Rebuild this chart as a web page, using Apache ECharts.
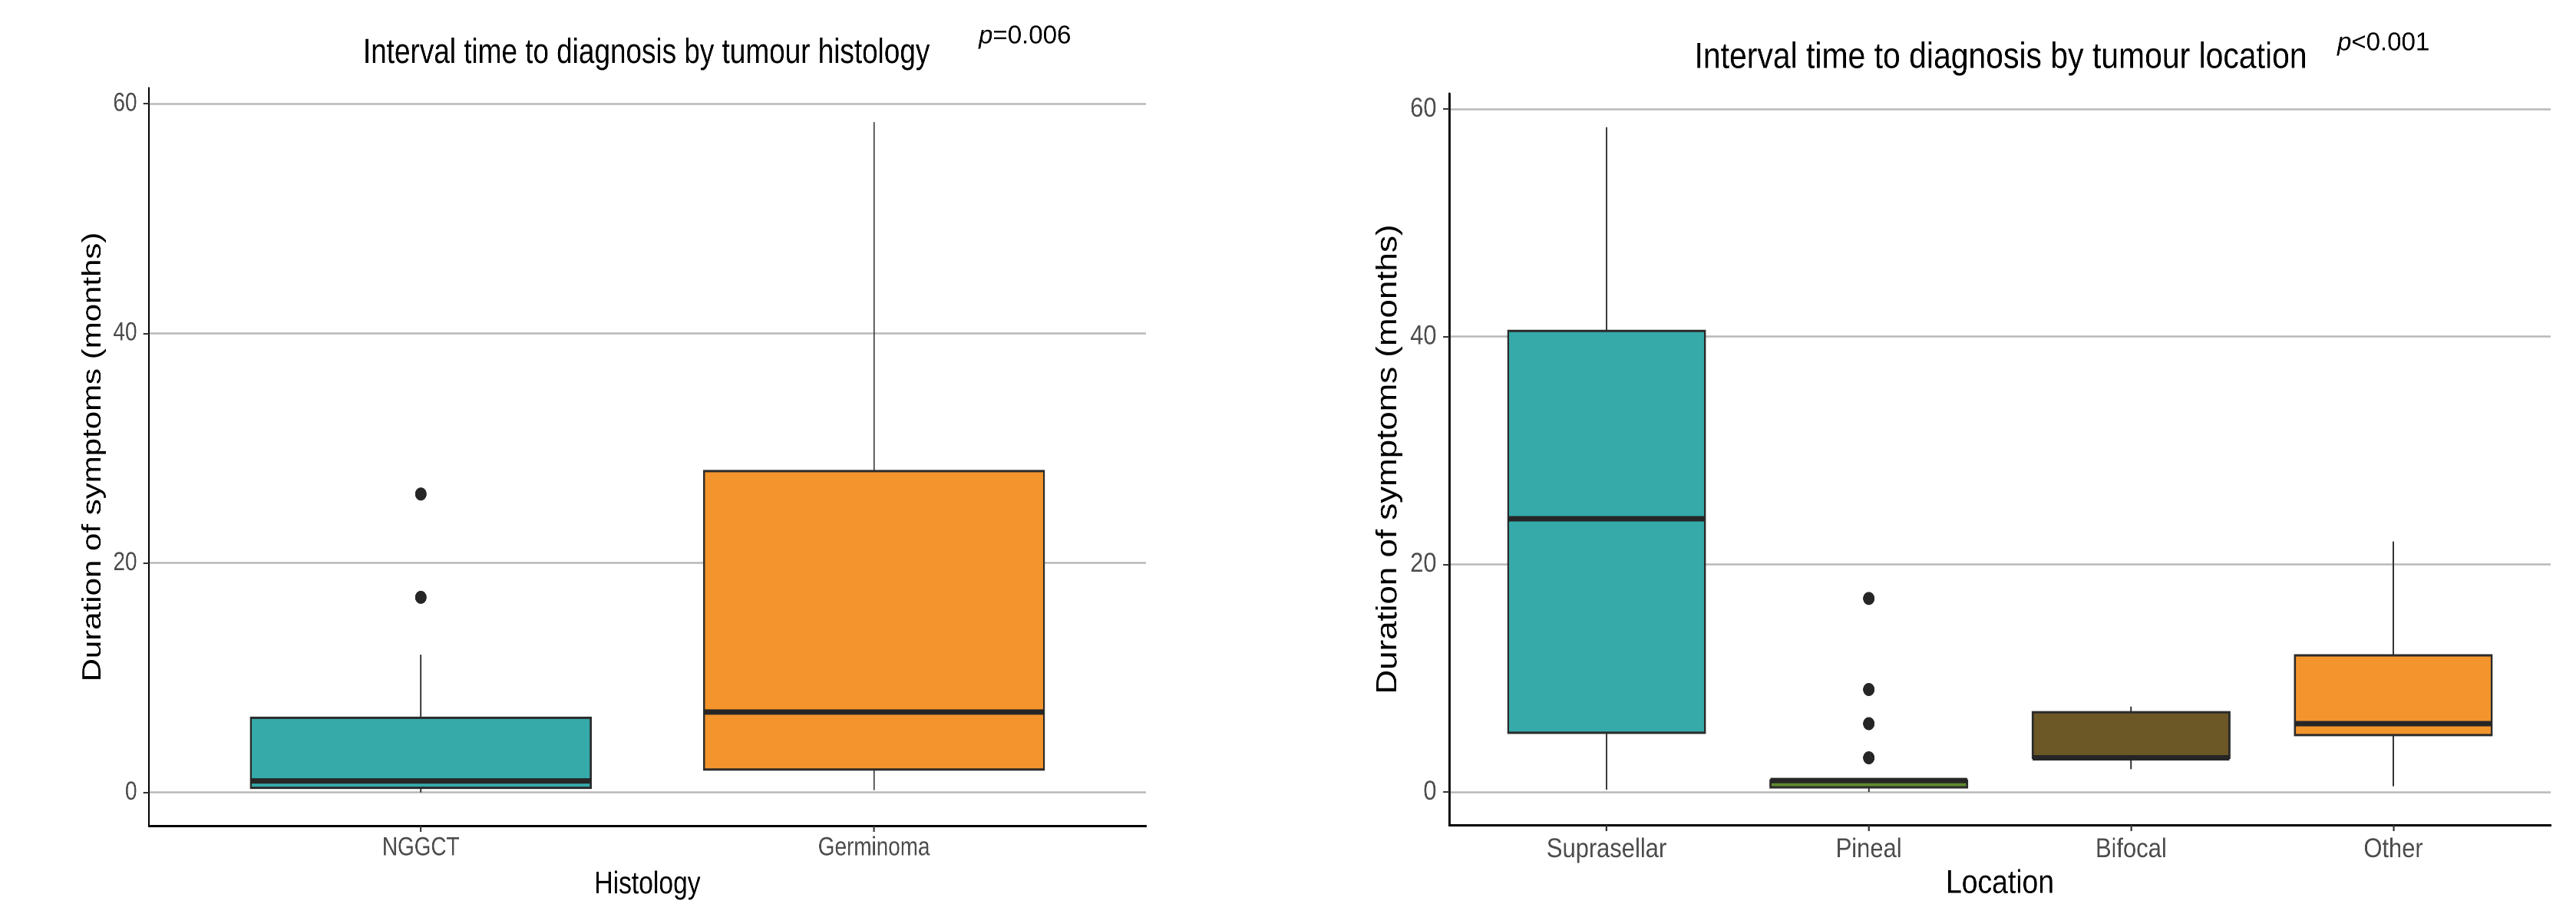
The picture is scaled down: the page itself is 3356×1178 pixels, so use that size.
<!DOCTYPE html>
<html>
<head>
<meta charset="utf-8">
<title>Interval time to diagnosis</title>
<script src="https://cdn.jsdelivr.net/npm/echarts@6/dist/echarts.min.js"></script>
<style>
html, body { margin: 0; padding: 0; background: #fff; }
body { position: relative; width: 3356px; height: 1178px; overflow: hidden; }
/* the original figure is squeezed sideways, so each panel is drawn wider and scaled back */
#left { position: absolute; left: 0; top: 0; width: 2074px; height: 1178px; transform: scaleX(0.82); transform-origin: 0 0; }
#right { position: absolute; left: 1700px; top: 0; width: 1904px; height: 1178px; transform: scaleX(0.87); transform-origin: 0 0; }
</style>
</head>
<body>
<div id="left"></div>
<div id="right"></div>
<script>
// left panel: by histology
var histCats = ['NGGCT', 'Germinoma'];
// [min, Q1, median, Q3, max] (whisker ends)
var histBoxes = [
	[0, 0.4, 1, 6.5, 12],
	[0.2, 2, 7, 28, 58.4]
];
// [category number, value]
var histOutliers = [[1, 17], [1, 26]];
var histP = 'p=0.006';

// right panel: by location
var locCats = ['Suprasellar', 'Pineal', 'Bifocal', 'Other'];
var locBoxes = [
	[0.2, 5.2, 24, 40.5, 58.4],
	[0, 0.4, 1, 1, 1],
	[2, 3, 3, 7, 7.5],
	[0.5, 5, 6, 12, 22]
];
var locOutliers = [[2, 3], [2, 6], [2, 9], [2, 17]];
var locP = 'p<0.001';

var yTicks = [0, 20, 40, 60];

var histColors = ['#35aaa9', '#f3952c'];
var locColors = ['#35aaa9', '#5f8a30', '#6c5727', '#f3952c'];

var font = '"Liberation Sans", Arial, sans-serif';

function boxRender(colors) {
	return function (params, api) {
		var x = api.value(0);
		var lo = api.coord([x, api.value(1)]);
		var q1 = api.coord([x, api.value(2)]);
		var md = api.coord([x, api.value(3)]);
		var q3 = api.coord([x, api.value(4)]);
		var hi = api.coord([x, api.value(5)]);
		var half = api.size([0.75, 0])[0] / 2;
		var cx = q1[0];
		var wl = { stroke: '#333', lineWidth: 2.2 };
		return {
			type: 'group',
			children: [
				{ type: 'line', shape: { x1: cx, y1: q3[1], x2: cx, y2: hi[1] }, style: wl },
				{ type: 'line', shape: { x1: cx, y1: q1[1], x2: cx, y2: lo[1] }, style: wl },
				{ type: 'rect', shape: { x: cx - half, y: q3[1], width: half * 2, height: q1[1] - q3[1] },
					style: { fill: colors[params.dataIndex], stroke: '#2b2b2b', lineWidth: 3 } },
				{ type: 'line', shape: { x1: cx - half, y1: md[1], x2: cx + half, y2: md[1] },
					style: { stroke: '#262626', lineWidth: 7 } }
			]
		};
	};
}

function makePanel(id, p) {
	var cats = p.cats;
	var vals = cats.map(function (c, i) { return i + 1; });
	var chart = echarts.init(document.getElementById(id), null, { devicePixelRatio: 2 });
	var s = p.fs;
	chart.setOption({
		animation: false,
		backgroundColor: '#fff',
		grid: { left: p.gridLeft, top: p.gridTop, width: p.gridWidth, height: p.gridHeight },
		xAxis: {
			type: 'value',
			min: 0.4,
			max: cats.length + 0.6,
			name: p.xName,
			nameLocation: 'middle',
			nameGap: p.xNameGap,
			nameTextStyle: { fontFamily: font, fontSize: 41 * s, color: '#000' },
			axisLine: { show: true, onZero: false, lineStyle: { color: '#000', width: 3 } },
			axisTick: { show: true, customValues: vals, length: 8, lineStyle: { color: '#333', width: 2.5 } },
			axisLabel: {
				customValues: vals,
				formatter: function (v) { return cats[Math.round(v) - 1]; },
				fontFamily: font, fontSize: 34 * s, color: '#4d4d4d', margin: p.xLabelMargin
			},
			splitLine: { show: false }
		},
		yAxis: {
			type: 'value',
			min: -2.9,
			max: 61.35,
			name: 'Duration of symptoms (months)',
			nameLocation: 'middle',
			nameGap: p.yNameGap,
			nameTextStyle: { fontFamily: font, fontSize: 42 * s, color: '#000' },
			axisLine: { show: true, onZero: false, lineStyle: { color: '#000', width: 3 } },
			axisTick: { show: true, customValues: yTicks, length: 9, lineStyle: { color: '#333', width: 2 } },
			axisLabel: { customValues: yTicks, fontFamily: font, fontSize: 34 * s, color: '#4d4d4d', margin: 19 },
			splitLine: { show: true, lineStyle: { color: '#b9b9b9', width: 2.5 } }
		},
		graphic: [
			{ type: 'text', x: p.titleX, y: p.titleY, style: { text: p.title,
				textAlign: 'center', fontFamily: font, fontSize: 45 * s, fill: '#000' } },
			{ type: 'text', x: p.pX, y: p.pY, scaleX: 1 / p.squeeze, style: {
				text: '{i|' + p.pText.charAt(0) + '}' + p.pText.slice(1),
				fontFamily: font, fontSize: 33, fill: '#000',
				rich: { i: { fontStyle: 'italic', fontFamily: font, fontSize: 33 } } } }
		],
		series: [
			{
				type: 'custom', z: 3,
				renderItem: boxRender(p.colors),
				encode: { x: 0, y: [1, 2, 3, 4, 5] },
				data: p.boxes.map(function (b, i) { return [i + 1].concat(b); })
			},
			{
				type: 'scatter', z: 4,
				symbolSize: p.dot,
				itemStyle: { color: '#262626', opacity: 1 },
				data: p.outliers
			}
		]
	});
	return chart;
}

var leftChart = makePanel('left', {
	cats: histCats, boxes: histBoxes, outliers: histOutliers, colors: histColors,
	xName: 'Histology', title: 'Interval time to diagnosis by tumour histology', pText: histP,
	squeeze: 0.82, fs: 1,
	gridLeft: 236.6, gridTop: 115, gridWidth: 1584, gridHeight: 963,
	xNameGap: 56, xLabelMargin: 12, yNameGap: 54,
	titleX: 1027, titleY: 47, pX: 1555, pY: 31,
	dot: [18.3, 17]
});

var rightChart = makePanel('right', {
	cats: locCats, boxes: locBoxes, outliers: locOutliers, colors: locColors,
	xName: 'Location', title: 'Interval time to diagnosis by tumour location', pText: locP,
	squeeze: 0.87, fs: 1.045,
	gridLeft: 216.1, gridTop: 122, gridWidth: 1649.4, gridHeight: 965,
	xNameGap: 55, xLabelMargin: 14, yNameGap: 57,
	titleX: 1042, titleY: 52, pX: 1546, pY: 40,
	dot: [17.2, 17]
});
</script>
</body>
</html>
